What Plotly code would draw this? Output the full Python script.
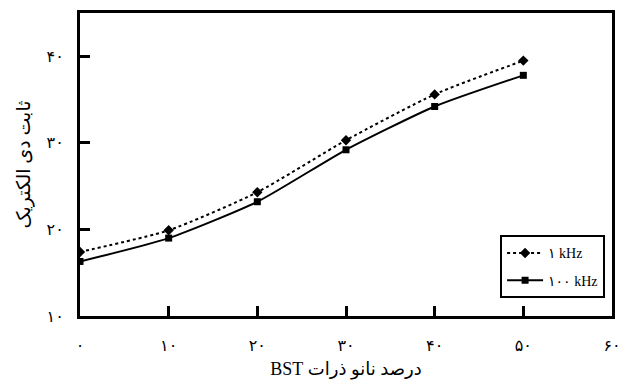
import plotly.graph_objects as go

x_vals = [0, 10, 20, 30, 40, 50]
y_1khz = [17.4, 19.9, 24.3, 30.3, 35.6, 39.5]
y_100khz = [16.3, 19.0, 23.2, 29.2, 34.2, 37.8]

x_ticks = [0, 10, 20, 30, 40, 50, 60]
x_tick_labels = ["۰", "۱۰", "۲۰", "۳۰", "۴۰", "۵۰", "۶۰"]
y_ticks = [10, 20, 30, 40]
y_tick_labels = ["۱۰", "۲۰", "۳۰", "۴۰"]

series_names = ["۱ kHz", "۱۰۰ kHz"]
x_title = "\u202bدرصد نانو ذرات BST\u202c"
y_title = "ثابت دی الکتریک"

font_fam = "Liberation Serif, DejaVu Sans, serif"

fig = go.Figure()
fig.add_trace(go.Scatter(
    x=x_vals, y=y_1khz, name=series_names[0], mode="lines+markers",
    legendgroup="a",
    line=dict(color="black", width=2, dash="dot", shape="spline", smoothing=0.6),
    marker=dict(symbol="diamond", size=8, color="black"),
))
fig.add_trace(go.Scatter(
    x=x_vals, y=y_100khz, name=series_names[1], mode="lines+markers",
    legendgroup="b",
    line=dict(color="black", width=2, shape="spline", smoothing=0.6),
    marker=dict(symbol="square", size=7, color="black"),
))

fig.update_layout(
    width=622, height=389,
    margin=dict(l=80, r=10, t=13, b=73),
    paper_bgcolor="white", plot_bgcolor="white",
    font=dict(family=font_fam, size=14, color="black"),
    showlegend=True,
    legend=dict(
        x=0.987, y=0.058, xanchor="right", yanchor="bottom",
        bordercolor="black", borderwidth=2, bgcolor="white",
        font=dict(size=14, family=font_fam),
        tracegroupgap=6, itemwidth=36,
    ),
    xaxis=dict(
        range=[0, 60], tickvals=x_ticks, ticktext=x_tick_labels,
        tickfont=dict(size=16),
        showline=True, linecolor="black", linewidth=3, mirror=True,
        ticks="inside", ticklen=10, tickwidth=3, tickcolor="black",
        showgrid=False, zeroline=False, ticklabelstandoff=13,
        automargin=False,
        title=dict(text=x_title, font=dict(size=18), standoff=10),
    ),
    yaxis=dict(
        range=[10, 45], tickvals=y_ticks, ticktext=y_tick_labels,
        tickfont=dict(size=16),
        showline=True, linecolor="black", linewidth=3, mirror=True,
        ticks="inside", ticklen=10, tickwidth=3, tickcolor="black",
        showgrid=False, zeroline=False, ticklabelstandoff=10,
        automargin=False,
        title=dict(text=y_title, font=dict(size=19), standoff=11),
    ),
)

fig.write_html("out.html", config={"displayModeBar": False},
               post_script="document.body.style.margin='0';")
